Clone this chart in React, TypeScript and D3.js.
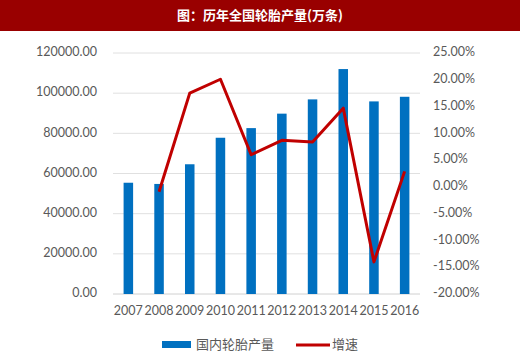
import React from "react";
import * as d3 from "d3";

const years = ["2007", "2008", "2009", "2010", "2011", "2012", "2013", "2014", "2015", "2016"];
const output = [55400, 54800, 64600, 77800, 82600, 89800, 96900, 112000, 95900, 98200];
const growthYears = ["2008", "2009", "2010", "2011", "2012", "2013", "2014", "2015", "2016"];
const growth = [-0.9, 17.5, 20.1, 6.0, 8.7, 8.4, 14.7, -14.0, 2.9];
const leftTicks = [0, 20000, 40000, 60000, 80000, 100000, 120000];
const rightTicks = [-20, -15, -10, -5, 0, 5, 10, 15, 20, 25];
const title = "图：历年全国轮胎产量(万条)";
const seriesNames = ["国内轮胎产量", "增速"];

const W = 520, H = 360;
const left = 113, right = 420, top = 53, bottom = 294;
const font = "Lato, 'Noto Sans CJK SC', sans-serif";

export default function App() {
  const x = d3.scaleBand().domain(years).range([left, right]).paddingInner(0.69).paddingOuter(0.345);
  const yL = d3.scaleLinear().domain([0, 120000]).range([bottom, top]);
  const yR = d3.scaleLinear().domain([-20, 25]).range([bottom, top]);
  const cx = (d: string) => (x(d) as number) + x.bandwidth() / 2;
  const line = d3.line<number>()
    .x((_, i) => cx(growthYears[i]))
    .y((d) => yR(d));
  return (
    <svg width={W} height={H} style={{ position: "absolute", left: 0, top: 0, background: "#fff" }}>
      <rect x={0} y={0} width={W} height={31} fill="#990000" />
      <text x={260} y={16} textAnchor="middle" dominantBaseline="middle" fill="#fff" fontSize={13} fontWeight="bold" fontFamily="'Noto Sans CJK SC', sans-serif">{title}</text>
      {leftTicks.map((t) => (
        <g key={t}>
          <line x1={left} x2={right} y1={yL(t)} y2={yL(t)} stroke={t === 0 ? "#d0d0d0" : "#e0e0e0"} strokeWidth={1} />
          <text x={97} y={yL(t)} textAnchor="end" dominantBaseline="middle" fontSize={12.5} fill="#595959" fontFamily={font}>{d3.format(".2f")(t)}</text>
        </g>
      ))}
      {rightTicks.map((t) => (
        <text key={t} x={433} y={yR(t)} textAnchor="start" dominantBaseline="middle" fontSize={12.5} fill="#595959" fontFamily={font}>{t.toFixed(2) + "%"}</text>
      ))}
      {years.map((yr, i) => (
        <rect key={yr} x={x(yr)} y={yL(output[i])} width={x.bandwidth()} height={bottom - yL(output[i])} fill="#0070c0" />
      ))}
      <path d={line(growth) || ""} fill="none" stroke="#c00000" strokeWidth={3} strokeLinejoin="round" />
      {years.map((yr) => (
        <text key={yr} x={cx(yr)} y={312} textAnchor="middle" dominantBaseline="middle" fontSize={12.5} fill="#595959" fontFamily={font}>{yr}</text>
      ))}
      <rect x={162} y={341} width={29} height={7} fill="#0070c0" />
      <text x={196} y={345} dominantBaseline="middle" fontSize={13} fill="#595959" fontFamily="'Noto Sans CJK SC', sans-serif">{seriesNames[0]}</text>
      <line x1={296} x2={330} y1={345} y2={345} stroke="#c00000" strokeWidth={3} />
      <text x={332} y={345} dominantBaseline="middle" fontSize={13} fill="#595959" fontFamily="'Noto Sans CJK SC', sans-serif">{seriesNames[1]}</text>
    </svg>
  );
}
